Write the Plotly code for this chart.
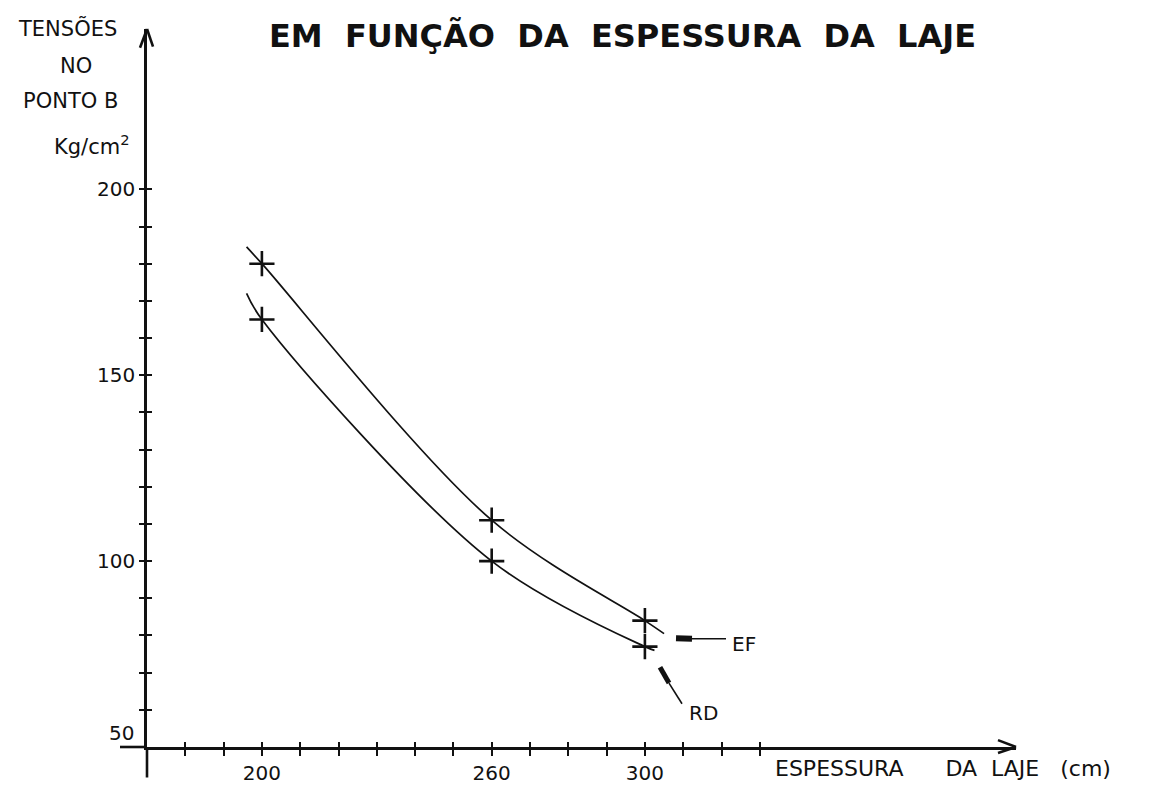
import plotly.graph_objects as go

# ---- data ----
thickness = [200, 260, 300]            # cm
ef_stress = [180, 111, 84]             # kg/cm2, curve EF
rd_stress = [165, 100, 77]             # kg/cm2, curve RD

# extent of the hand-drawn curves
ef_curve_x = [196, 200, 260, 300, 305]
ef_curve_y = [184.5, 180, 111, 84, 80.5]
rd_curve_x = [196, 200, 260, 300, 302.5]
rd_curve_y = [172, 165, 100, 77, 76]

x_ticks = [180, 190, 200, 210, 220, 230, 240, 250, 260, 270, 280, 290, 300, 310, 320, 330]
x_labels = {200: "200", 260: "260", 300: "300"}
y_ticks = [60, 70, 80, 90, 100, 110, 120, 130, 140, 150, 160, 170, 180, 190, 200]
y_labels = {100: "100", 150: "150", 200: "200"}

# ---- layout geometry (pixels) ----
W, H = 1170, 789
L, R, T, B = 139, 1008, 21, 751
X_PPU, Y_PPU = 3.83, 3.78
X_RANGE = [170, 170 + (R - L) / X_PPU]
Y_RANGE = [50, 50 + (B - T) / Y_PPU]
INK = "#111111"
FONT = "DejaVu Sans"


def px(xp):
    return (xp - L) / (R - L)


def py(yp):
    return (B - yp) / (B - T)


fig = go.Figure()

fig.add_trace(go.Scatter(x=ef_curve_x, y=ef_curve_y, mode="lines",
                         line=dict(color=INK, width=1.7, shape="spline", smoothing=1.0),
                         showlegend=False, hoverinfo="skip"))
fig.add_trace(go.Scatter(x=rd_curve_x, y=rd_curve_y, mode="lines",
                         line=dict(color=INK, width=1.7, shape="spline", smoothing=1.0),
                         showlegend=False, hoverinfo="skip"))
fig.add_trace(go.Scatter(x=thickness, y=ef_stress, mode="markers", name="EF",
                         marker=dict(symbol="cross-thin", size=18, line=dict(width=2.6, color=INK)),
                         showlegend=False))
fig.add_trace(go.Scatter(x=thickness, y=rd_stress, mode="markers", name="RD",
                         marker=dict(symbol="cross-thin", size=18, line=dict(width=2.6, color=INK)),
                         showlegend=False))
# empty trace so the overlay axes (inner halves of the crossing ticks) are drawn
fig.add_trace(go.Scatter(x=[], y=[], xaxis="x2", yaxis="y2", showlegend=False))

tickfont = dict(family=FONT, size=20, color=INK)

fig.update_layout(
    width=W, height=H,
    margin=dict(l=L, r=W - R, t=T, b=H - B),
    paper_bgcolor="white", plot_bgcolor="white",
    xaxis=dict(range=X_RANGE, showgrid=False, zeroline=False,
               showline=True, linecolor=INK, linewidth=2.6,
               tickmode="array", tickvals=x_ticks,
               ticktext=[x_labels.get(v, "") for v in x_ticks],
               ticks="outside", ticklen=6, tickwidth=2, tickcolor=INK,
               tickfont=tickfont),
    yaxis=dict(range=Y_RANGE, showgrid=False, zeroline=False,
               showline=True, linecolor=INK, linewidth=2.6,
               tickmode="array", tickvals=y_ticks,
               ticktext=[y_labels.get(v, "") for v in y_ticks],
               ticks="outside", ticklen=5, tickwidth=2, tickcolor=INK,
               tickfont=tickfont),
    xaxis2=dict(range=X_RANGE, overlaying="x", anchor="y", side="bottom",
                showgrid=False, zeroline=False, showline=False,
                tickmode="array", tickvals=x_ticks, showticklabels=False,
                ticks="inside", ticklen=5, tickwidth=2, tickcolor=INK),
    yaxis2=dict(range=Y_RANGE, overlaying="y", anchor="x", side="left",
                showgrid=False, zeroline=False, showline=False,
                tickmode="array", tickvals=y_ticks, showticklabels=False,
                ticks="inside", ticklen=5, tickwidth=2, tickcolor=INK),
)

# axis overhangs and open arrowheads
line_style = dict(color=INK, width=2.6)
shapes = [
    dict(type="line", xref="paper", yref="paper", x0=px(112), y0=py(B), x1=px(L), y1=py(B), line=line_style),
    dict(type="line", xref="paper", yref="paper", x0=px(L), y0=py(B), x1=px(L), y1=py(782), line=line_style),
    dict(type="line", xref="paper", yref="paper", x0=px(L - 7), y0=py(T + 19), x1=px(L), y1=py(T), line=line_style),
    dict(type="line", xref="paper", yref="paper", x0=px(L + 6), y0=py(T + 18), x1=px(L), y1=py(T), line=line_style),
    dict(type="line", xref="paper", yref="paper", x0=px(R - 18), y0=py(B - 7), x1=px(R), y1=py(B), line=line_style),
    dict(type="line", xref="paper", yref="paper", x0=px(R - 18), y0=py(B + 6), x1=px(R), y1=py(B), line=line_style),
    # EF leader
    dict(type="line", xref="paper", yref="paper", x0=px(684), y0=py(641), x1=px(718), y1=py(641),
         line=dict(color=INK, width=1.4)),
    dict(type="line", xref="paper", yref="paper", x0=px(668), y0=py(640.5), x1=px(684), y1=py(641),
         line=dict(color=INK, width=6)),
    # RD leader
    dict(type="line", xref="paper", yref="paper", x0=px(661), y0=py(686), x1=px(674), y1=py(707),
         line=dict(color=INK, width=1.6)),
    dict(type="line", xref="paper", yref="paper", x0=px(652), y0=py(670), x1=px(661), y1=py(686),
         line=dict(color=INK, width=5)),
]
fig.update_layout(shapes=shapes)


def label(text, xp, yp, size=20, xanchor="center", bold=False):
    t = f"<b>{text}</b>" if bold else text
    fig.add_annotation(text=t, xref="paper", yref="paper", x=px(xp), y=py(yp),
                       xanchor=xanchor, yanchor="middle", showarrow=False,
                       font=dict(family=FONT, size=size, color=INK))


nb = "\u00a0"
label(f"EM{nb*2}FUNÇÃO{nb*2}DA{nb*2}ESPESSURA{nb*2}DA{nb*2}LAJE", 614, 28, size=32, bold=True)
label("TENSÕES", 59, 20, size=21)
label("NO", 68, 59, size=21)
label("PONTO B", 62, 94, size=21)
label("Kg/cm<sup>2</sup>", 84, 139, size=21)
label("50", 113, 737, size=20)
label(f"ESPESSURA{nb*6}DA{nb*2}LAJE{nb*3}(cm)", 765, 773, size=22, xanchor="left")
label("EF", 722, 646, size=20, xanchor="left")
label("RD", 679, 716, size=20, xanchor="left")

fig.write_html("out.html")
